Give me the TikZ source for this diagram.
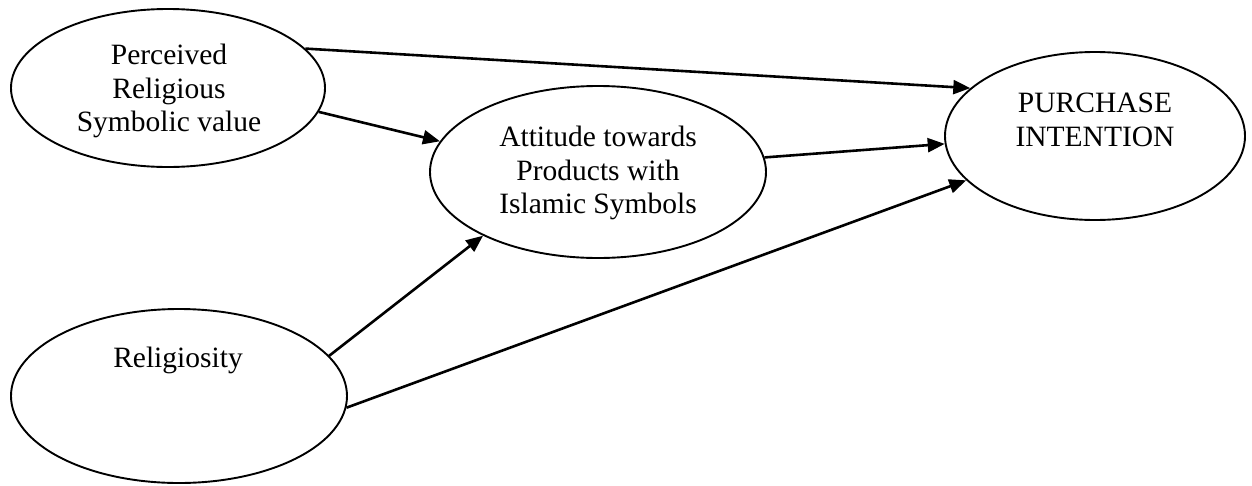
\documentclass[tikz,border=0pt]{standalone}
\usepackage{fontspec}
\setmainfont{Liberation Serif}
\usetikzlibrary{shapes.geometric,arrows.meta}
\tikzset{
  oval/.style={draw=black, line width=1.9pt, ellipse, inner sep=0pt},
  lbl/.style={align=center, font=\fontsize{29.5}{33.5}\selectfont, inner sep=0pt},
  conn/.style={line width=2.6pt, -{Triangle[length=17pt,width=14pt]}}
}
\begin{document}
\begin{tikzpicture}[x=1pt,y=-1pt]
\useasboundingbox (0,0) rectangle (1252,485);
\node[oval, minimum width=314pt, minimum height=158pt] (prsv) at (168,88) {};
\node[oval, minimum width=336pt, minimum height=172pt] (att) at (598,172) {};
\node[oval, minimum width=300pt, minimum height=168pt] (pi) at (1095,136) {};
\node[oval, minimum width=336pt, minimum height=174pt] (rel) at (179,396) {};
\node[lbl] (tprsv) at (169,91) {Perceived\\Religious\\Symbolic value};
\node[lbl] (tatt) at (598,173) {Attitude towards\\Products with\\Islamic Symbols};
\node[lbl] (tpi) at (1095,120) {PURCHASE\\INTENTION};
\node[lbl] (trel) at (178,360) {Religiosity};
\draw[conn] (prsv.16.4) -- (pi.159.1);
\draw[conn] (prsv.-9.2) -- (att.169.6);
\draw[conn] (att.5.5) -- (pi.183.4);
\draw[conn] (rel.15.4) -- (att.209.2);
\draw[conn] (rel.-4.8) -- (pi.199.6);
\end{tikzpicture}
\end{document}
